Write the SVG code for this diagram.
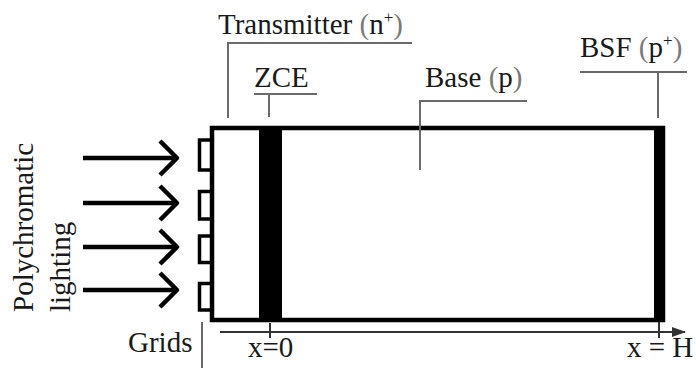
<svg xmlns="http://www.w3.org/2000/svg" width="696" height="368" viewBox="0 0 696 368">
<defs>
<style>
text{font-family:"Liberation Serif","Times New Roman",serif;font-size:29px;fill:#1a1a1a}
.par{fill:#7a7a7a}
.lead{stroke:#6a6a6a;stroke-width:2;fill:none}
.arr{stroke:#000;stroke-width:4.5;fill:none;stroke-linejoin:round}
.grid{stroke:#000;stroke-width:3.5;fill:#fff}
</style>
<marker id="ah" viewBox="0 0 14 10" refX="13" refY="5" markerWidth="14" markerHeight="10" markerUnits="userSpaceOnUse" orient="auto">
<path d="M0,0 L14,5 L0,10 Z" fill="#333"/>
</marker>
</defs>
<rect width="696" height="368" fill="#fff"/>

<g id="light-label">
<text transform="translate(33,312) rotate(-90)" font-size="28">Polychromatic</text>
<text transform="translate(70,312) rotate(-90)" font-size="28">lighting</text>
</g>

<g id="grids">
<rect class="grid" x="199.5" y="140" width="12.5" height="30"/>
<rect class="grid" x="199.5" y="191.5" width="12.5" height="27.5"/>
<rect class="grid" x="199.5" y="236" width="12.5" height="26.5"/>
<rect class="grid" x="199.5" y="283.5" width="12.5" height="26.5"/>
</g>

<g id="cell">
<rect x="212" y="128" width="451" height="192" fill="#fff" stroke="#000" stroke-width="4.5"/>
<rect x="259" y="128" width="23" height="192" fill="#000"/>
<rect x="654" y="128" width="11" height="192" fill="#000"/>
</g>

<g id="connectors">
<g class="arr">
<line x1="83" y1="158" x2="176" y2="158"/><polyline points="160,141 177,158 160,175"/>
<line x1="83" y1="203" x2="176" y2="203"/><polyline points="160,186 177,203 160,220"/>
<line x1="83" y1="247" x2="176" y2="247"/><polyline points="160,230 177,247 160,264"/>
<line x1="83" y1="290" x2="176" y2="290"/><polyline points="160,273 177,290 160,307"/>
</g>
<g class="lead">
<polyline points="228,118 228,43 412,43"/>
<line x1="254" y1="94" x2="317" y2="94"/><line x1="269" y1="94" x2="269" y2="117"/>
<polyline points="420,170 420,101 527,101"/>
<line x1="580" y1="72" x2="687" y2="72"/><line x1="658" y1="72" x2="658" y2="118"/>
<line x1="202" y1="322" x2="202" y2="368"/>
</g>
<g id="axis">
<line x1="220" y1="332" x2="685" y2="332" stroke="#333" stroke-width="2" marker-end="url(#ah)"/>
<line x1="270" y1="323" x2="270" y2="338" stroke="#333" stroke-width="2"/>
<line x1="659" y1="322" x2="659" y2="338" stroke="#333" stroke-width="2"/>
</g>
</g>

<g id="labels">
<text x="218" y="34">Transmitter <tspan class="par">(</tspan>n<tspan font-size="17" dy="-11">+</tspan><tspan class="par" dy="11">)</tspan></text>
<text x="254" y="87">ZCE</text>
<text x="425" y="87">Base <tspan class="par">(</tspan>p<tspan class="par">)</tspan></text>
<text x="580" y="57">BSF <tspan class="par">(</tspan>p<tspan font-size="17" dy="-11">+</tspan><tspan class="par" dy="11">)</tspan></text>
<text x="128" y="352" font-size="28">Grids</text>
<text x="248" y="357" font-size="28">x=0</text>
<text x="627" y="357" font-size="28">x = H</text>
</g>
</svg>
